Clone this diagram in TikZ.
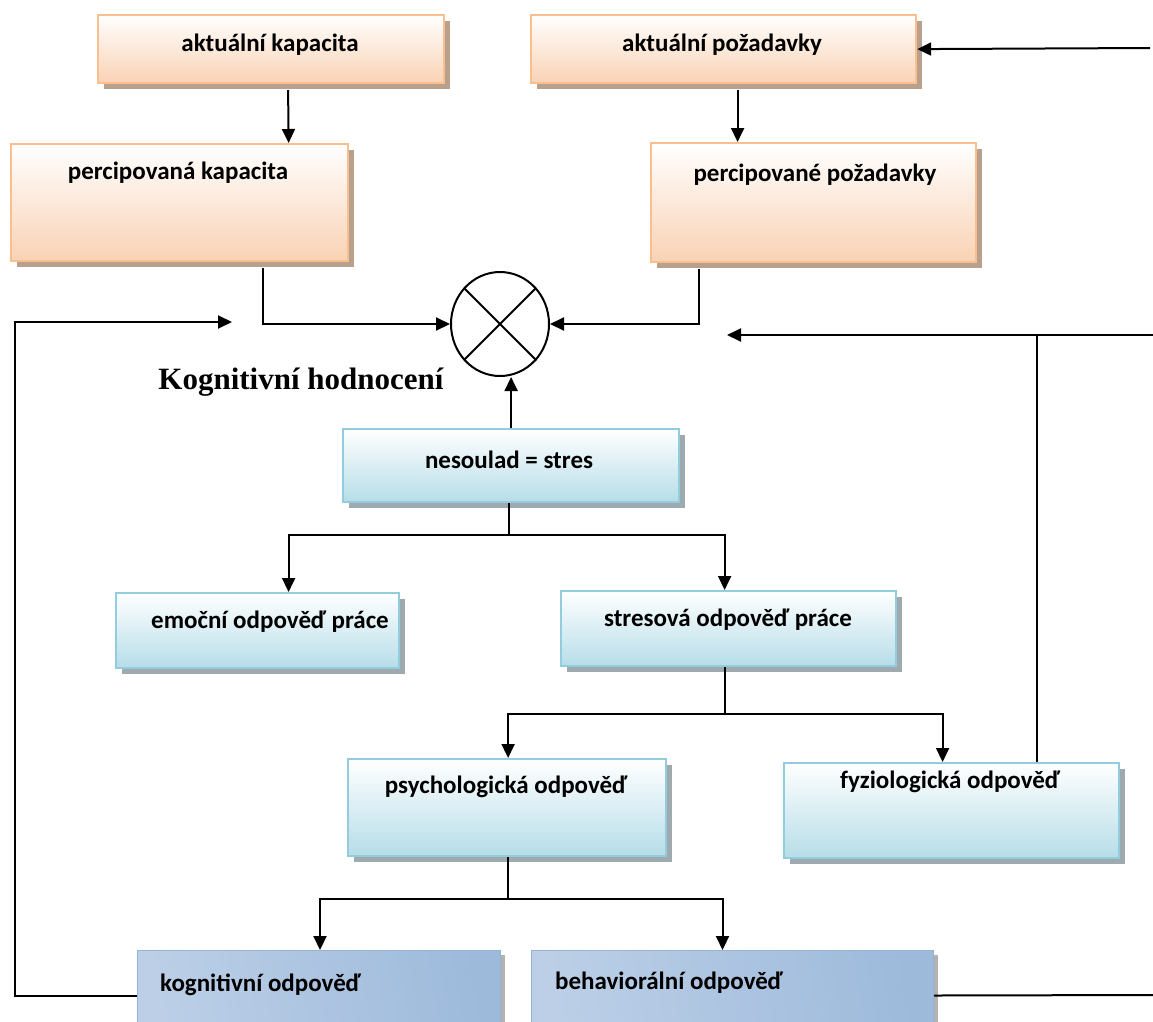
\documentclass[tikz,border=0pt]{standalone}
\usepackage{fontspec}
\setmainfont{Carlito}
\newfontfamily\timesb{Liberation Serif}
\usetikzlibrary{arrows.meta,shapes.geometric,shadows,calc}
\definecolor{oborder}{HTML}{F9BF8F}
\definecolor{obottom}{HTML}{F9D2B4}
\definecolor{oshadow}{HTML}{B8A08C}
\definecolor{bborder}{HTML}{93CDDD}
\definecolor{bbottom}{HTML}{B6DDE8}
\definecolor{bshadow}{HTML}{9FAAB0}
\definecolor{dborder}{HTML}{95B3D7}
\definecolor{dlight}{HTML}{E6EDF6}
\definecolor{dleft}{HTML}{BCCFE7}
\definecolor{dright}{HTML}{9DBADB}
\begin{document}
\begin{tikzpicture}[x=1pt,y=-1pt,
  boxbase/.style={rectangle, inner sep=0pt, anchor=north west},
  obox/.style={boxbase, draw=oborder, line width=2.2pt, top color=white, bottom color=obottom,
    drop shadow={shadow xshift=6pt, shadow yshift=-6pt, fill=oshadow, opacity=1}},
  bbox/.style={boxbase, draw=bborder, line width=2.2pt, top color=white, bottom color=bbottom,
    drop shadow={shadow xshift=6pt, shadow yshift=-6pt, fill=bshadow, opacity=1}},
  dbox/.style={boxbase, draw=dborder, line width=1pt, left color=dleft, middle color=dlight, right color=dright, shading angle=100,
    drop shadow={shadow xshift=4pt, shadow yshift=-4pt, fill=gray!60, opacity=1}},
  lbl/.style={font=\bfseries\fontsize{25}{30}\selectfont, inner sep=0pt},
  ln/.style={line width=2pt, draw=black},
  arr/.style={ln, -{Triangle[length=14pt,width=13pt]}}
]
\useasboundingbox (0,0) rectangle (1153,1021);
\clip (0,0) rectangle (1153,1021);

% boxes
\node[obox, minimum width=346, minimum height=68] (ak) at (97,14) {};
\node[obox, minimum width=385, minimum height=68] (ap) at (530,14) {};
\node[obox, minimum width=337, minimum height=117] (pk) at (10,143) {};
\node[obox, minimum width=325, minimum height=119] (pp) at (650,142) {};
\node[bbox, minimum width=336, minimum height=73] (nes) at (342,428) {};
\node[bbox, minimum width=283, minimum height=75] (emo) at (115,592) {};
\node[bbox, minimum width=335, minimum height=75] (str) at (560,590) {};
\node[bbox, minimum width=318, minimum height=97] (psy) at (347,758) {};
\node[bbox, minimum width=335, minimum height=95] (fz) at (783,762) {};
\node[dbox, minimum width=363, minimum height=90] (kog) at (137,950) {};
\node[dbox, minimum width=402, minimum height=90] (beh) at (531,950) {};

% circle
\node[ellipse, draw, line width=2pt, minimum width=98, minimum height=104, inner sep=0pt] (circ) at (500,324) {};
\draw[ln] (circ.135) -- (circ.-45);
\draw[ln] (circ.45) -- (circ.-135);

% texts
\node[lbl] (tak) at (270,45) {aktuální kapacita};
\node[lbl] (tap) at (722,45) {aktuální požadavky};
\node[lbl] (tpk) at (178,173) {percipovaná kapacita};
\node[lbl] (tpp) at (815,175) {percipované požadavky};
\node[lbl] (tnes) at (509,460) {nesoulad = stres};
\node[lbl] (temo) at (270,622) {emoční odpověď práce};
\node[lbl] (tstr) at (728,620) {stresová odpověď práce};
\node[lbl] (tpsy) at (506,787) {psychologická odpověď};
\node[lbl] (tfz) at (950,782) {fyziologická odpověď};
\node[lbl, anchor=west] (tkog) at (160,985) {kognitivní odpověď};
\node[lbl, anchor=west] (tbeh) at (555,983) {behaviorální odpověď};
\node[font=\timesb\bfseries\fontsize{31}{36}\selectfont, inner sep=0pt] (kh) at (301,382) {Kognitivní hodnocení};

% free ends
\coordinate (tr) at (1150,48);
\coordinate (lc) at (15,322);
\coordinate (le) at (232,322);
\coordinate (rr) at (1153,335);
\coordinate (re) at (727,335);
\coordinate (rb) at (1153,995);

% connectors
\draw[arr] ($(ak.south)+(17,6)$) -- ($(pk.north)+(109,0)$);
\draw[arr] ($(ap.south)+(14,6)$) -- ($(pp.north)+(-76,0)$);
\draw[arr] (tr) -- (ap.east);
\draw[arr] ($(pk.south)+(83,6)$) |- (circ.west);
\draw[arr] ($(pp.south)+(-115,6)$) |- (circ.east);
\draw[arr] (nes.north) -- (nes.north |- circ.south);

\coordinate (b1) at ($(nes.south)+(-2,32)$);
\draw[ln] ($(nes.south)+(-2,0)$) -- (b1);
\draw[arr] (b1) -| ($(emo.north)+(31,0)$);
\draw[arr] (b1) -| ($(str.north)+(-4,0)$);

\coordinate (b2) at ($(str.south)+(-4,47)$);
\draw[ln] ($(str.south)+(-4,0)$) -- (b2);
\draw[arr] (b2) -| ($(psy.north)+(1,0)$);
\draw[arr] (b2) -| ($(fz.north)+(-9,0)$);

\coordinate (b3) at ($(psy.south)+(1,42)$);
\draw[ln] ($(psy.south)+(1,0)$) -- (b3);
\draw[arr] (b3) -| ($(kog.north)+(1,0)$);
\draw[arr] (b3) -| ($(beh.north)+(-10,0)$);

\draw[arr] (kog.west) -| (lc) -- (le);
\draw[ln] (beh.east) -- (rb);
\draw[arr] (rr) -- (re);
\coordinate (fzt) at ($(fz.north)+(85,0)$);
\draw[ln] (fzt) -- (fzt |- rr);
\end{tikzpicture}
\end{document}
